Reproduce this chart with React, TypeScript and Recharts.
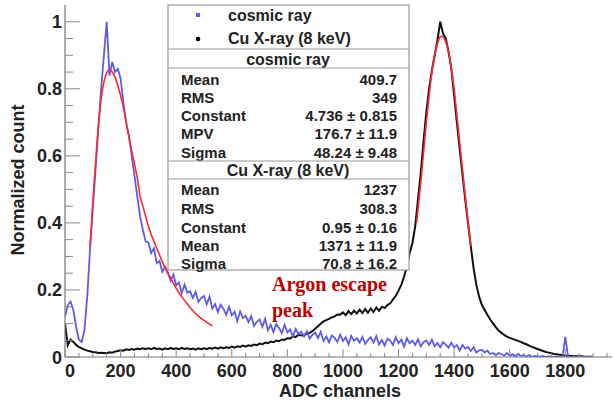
import { LineChart, Line, XAxis, YAxis } from "recharts";

// histogram binning (ADC channels)
const BIN_START = 0;
const BIN_WIDTH = 10;

// cosmic ray, normalized count per bin (0 .. 1900)
const cosmicCounts = [
  0.12, 0.155, 0.165, 0.14, 0.09, 0.052, 0.045, 0.08, 0.18, 0.32,
  0.44, 0.56, 0.68, 0.8, 0.9, 1.0, 0.84, 0.88, 0.85, 0.86,
  0.83, 0.76, 0.7, 0.66, 0.6, 0.54, 0.48, 0.42, 0.38, 0.345,
  0.342, 0.31, 0.324, 0.28, 0.286, 0.254, 0.27, 0.252, 0.228, 0.246,
  0.214, 0.222, 0.19, 0.216, 0.192, 0.196, 0.176, 0.194, 0.164, 0.176,
  0.182, 0.158, 0.18, 0.144, 0.158, 0.134, 0.156, 0.144, 0.126, 0.15,
  0.124, 0.135, 0.107, 0.136, 0.116, 0.123, 0.104, 0.122, 0.093, 0.105,
  0.112, 0.09, 0.114, 0.08, 0.096, 0.074, 0.098, 0.087, 0.071, 0.096,
  0.073, 0.082, 0.061, 0.084, 0.069, 0.075, 0.061, 0.077, 0.055, 0.066,
  0.073, 0.056, 0.075, 0.048, 0.061, 0.044, 0.064, 0.057, 0.045, 0.067,
  0.048, 0.059, 0.038, 0.063, 0.048, 0.056, 0.043, 0.06, 0.039, 0.051,
  0.059, 0.043, 0.062, 0.037, 0.051, 0.034, 0.055, 0.049, 0.036, 0.059,
  0.041, 0.052, 0.031, 0.056, 0.041, 0.049, 0.036, 0.053, 0.032, 0.044,
  0.049, 0.036, 0.052, 0.032, 0.042, 0.029, 0.044, 0.037, 0.028, 0.043,
  0.028, 0.036, 0.019, 0.036, 0.025, 0.03, 0.018, 0.029, 0.013, 0.02,
  0.021, 0.014, 0.019, 0.009, 0.012, 0.005, 0.012, 0.009, 0.004, 0.012,
  0.004, 0.008, 0.002, 0.009, 0.003, 0.006, 0.001, 0.006, 0, 0.003,
  0.002, 0.001, 0.003, 0, 0.002, 0.001, 0, 0.002, 0.001, 0,
  0.06, 0.001, 0, 0.002, 0, 0.001, 0, 0, 0, 0, 0,
];

// Cu X-ray (8 keV), normalized count per bin (0 .. 1900)
const copperCounts = [
  0.1, 0.035, 0.052, 0.045, 0.036, 0.03, 0.026, 0.022, 0.019, 0.017,
  0.015, 0.014, 0.012, 0.013, 0.012, 0.011, 0.014, 0.013, 0.016, 0.018,
  0.02, 0.019, 0.023, 0.021, 0.024, 0.022, 0.025, 0.023, 0.026, 0.024,
  0.026, 0.023, 0.027, 0.024, 0.025, 0.022, 0.026, 0.023, 0.027, 0.024,
  0.026, 0.023, 0.027, 0.024, 0.026, 0.023, 0.025, 0.022, 0.026, 0.023,
  0.026, 0.024, 0.027, 0.025, 0.028, 0.025, 0.029, 0.026, 0.029, 0.027,
  0.031, 0.028, 0.032, 0.03, 0.034, 0.031, 0.035, 0.033, 0.037, 0.035,
  0.04, 0.038, 0.043, 0.041, 0.046, 0.044, 0.049, 0.047, 0.052, 0.051,
  0.056, 0.055, 0.061, 0.06, 0.066, 0.064, 0.066, 0.069, 0.072, 0.077,
  0.084, 0.092, 0.099, 0.106, 0.11, 0.114, 0.118, 0.121, 0.127, 0.126,
  0.133, 0.125, 0.137, 0.128, 0.138, 0.13, 0.141, 0.131, 0.143, 0.132,
  0.145, 0.134, 0.148, 0.138, 0.15, 0.146, 0.155, 0.16, 0.172, 0.182,
  0.198, 0.215, 0.24, 0.27, 0.31, 0.34, 0.39, 0.47, 0.55, 0.645,
  0.73, 0.8, 0.855, 0.9, 0.945, 1.0, 0.965, 0.95, 0.91, 0.86,
  0.78, 0.7, 0.62, 0.545, 0.47, 0.4, 0.33, 0.265, 0.215, 0.18,
  0.155, 0.14, 0.125, 0.112, 0.1, 0.089, 0.079, 0.072, 0.066, 0.061,
  0.057, 0.054, 0.051, 0.048, 0.045, 0.041, 0.038, 0.034, 0.03, 0.027,
  0.024, 0.021, 0.018, 0.015, 0.013, 0.011, 0.009, 0.008, 0.007, 0.006,
  0.004, 0.004, 0.003, 0.003, 0.002, 0.002, 0.002, 0.001, 0.001, 0.001, 0.001,
];

// Landau fit to cosmic ray
const landauAdc = [90, 100, 110, 120, 130, 140, 150, 160, 170, 180, 190, 200, 210, 220, 230, 240, 250, 260, 270, 280, 290, 300, 310, 320, 330, 340, 360, 380, 400, 420, 440, 460, 480, 500, 520, 530];
const landauVal = [0.33, 0.46, 0.58, 0.69, 0.77, 0.82, 0.848, 0.857, 0.85, 0.835, 0.81, 0.78, 0.745, 0.7, 0.655, 0.615, 0.575, 0.535, 0.48, 0.45, 0.42, 0.39, 0.365, 0.345, 0.325, 0.305, 0.265, 0.235, 0.205, 0.18, 0.158, 0.138, 0.122, 0.109, 0.098, 0.093];

// Gaussian fit to Cu X-ray peak
const gausAdc = [1265, 1280, 1290, 1300, 1310, 1320, 1330, 1340, 1350, 1355, 1360, 1370, 1380, 1390, 1400, 1410, 1420, 1430, 1440, 1450, 1460];
const gausVal = [0.4, 0.52, 0.61, 0.7, 0.78, 0.85, 0.9, 0.935, 0.955, 0.957, 0.955, 0.94, 0.91, 0.86, 0.8, 0.72, 0.64, 0.56, 0.48, 0.4, 0.33];

const xMajor = [0, 200, 400, 600, 800, 1000, 1200, 1400, 1600, 1800];
const xTicks = [0, 50, 100, 150, 200, 250, 300, 350, 400, 450, 500, 550, 600, 650, 700, 750, 800, 850, 900, 950, 1000, 1050, 1100, 1150, 1200, 1250, 1300, 1350, 1400, 1450, 1500, 1550, 1600, 1650, 1700, 1750, 1800, 1850, 1900, 1950];
const yMajor = [0, 0.2, 0.4, 0.6, 0.8, 1];
const yTicks = [0, 0.05, 0.1, 0.15, 0.2, 0.25, 0.3, 0.35, 0.4, 0.45, 0.5, 0.55, 0.6, 0.65, 0.7, 0.75, 0.8, 0.85, 0.9, 0.95, 1];

const cosmicStats = [
  ["Mean", "409.7"],
  ["RMS", "349"],
  ["Constant", "4.736 ± 0.815"],
  ["MPV", "176.7 ± 11.9"],
  ["Sigma", "48.24 ± 9.48"],
];
const copperStats = [
  ["Mean", "1237"],
  ["RMS", "308.3"],
  ["Constant", "0.95 ± 0.16"],
  ["Mean", "1371 ± 11.9"],
  ["Sigma", "70.8 ± 16.2"],
];

const cosmicData = cosmicCounts.map((v, i) => ({ adc: BIN_START + i * BIN_WIDTH, v }));
const copperData = copperCounts.map((v, i) => ({ adc: BIN_START + i * BIN_WIDTH, v }));
const landauData = landauAdc.map((adc, i) => ({ adc, v: landauVal[i] }));
const gausData = gausAdc.map((adc, i) => ({ adc, v: gausVal[i] }));

const FONT = "'Liberation Sans', Arial, sans-serif";
const FRAME = "#777";
const TICK = "#888";
const BLUE = "#5c5ce6";
const RED = "#ff2a2a";

const isMajor = (list: number[], v: number) => list.some((m) => Math.abs(m - v) < 1e-6);

function AxisTick(props: any) {
  const { x, y, payload, side } = props;
  const v = payload.value as number;
  if (side === "bottom" || side === "top") {
    const major = isMajor(xMajor, v);
    const len = major ? 8 : 4;
    const dir = side === "bottom" ? -1 : 1;
    return (
      <g>
        <line x1={x} x2={x} y1={y} y2={y + dir * len} stroke={TICK} strokeWidth={1} />
        {side === "bottom" && major && (
          <text x={x + (v === 0 ? 5 : 0)} y={y + 20} textAnchor="middle" fontFamily={FONT} fontWeight="bold" fontSize={18} fill="#222">
            {v}
          </text>
        )}
      </g>
    );
  }
  const major = isMajor(yMajor, v);
  const len = major ? 15 : 8;
  const dir = side === "left" ? 1 : -1;
  return (
    <g>
      <line x1={x} x2={x + dir * len} y1={y} y2={y} stroke={TICK} strokeWidth={1} />
      {side === "left" && major && (
        <text x={x - 3} y={y + 6.5} textAnchor="end" fontFamily={FONT} fontWeight="bold" fontSize={18} fill="#222">
          {v}
        </text>
      )}
    </g>
  );
}

function StatsBox() {
  const left = 168;
  const right = 409;
  const labelX = 181;
  const valueX = 397;
  const text = { fontFamily: FONT, fontWeight: "bold" as const, fill: "#222" };
  const cosmicRowsY = [79, 97, 115, 133, 152];
  const copperRowsY = [189, 208, 227, 245, 263];
  return (
    <g>
      <rect x={left} y={5} width={right - left} height={265} fill="#fff" stroke="#999" strokeWidth={1.2} />
      <rect x={196} y={13} width={4} height={4} fill={BLUE} />
      <text x={228} y={21} fontSize={16} {...text}>cosmic ray</text>
      <circle cx={198} cy={39} r={2.3} fill="#000" />
      <text x={228} y={44} fontSize={16} {...text}>Cu X-ray (8 keV)</text>
      <line x1={left} x2={right} y1={49} y2={49} stroke="#999" strokeWidth={1.2} />
      <text x={288} y={65} fontSize={16} textAnchor="middle" {...text}>cosmic ray</text>
      <line x1={left} x2={right} y1={68} y2={68} stroke="#999" strokeWidth={1.2} />
      {cosmicStats.map(([k, val], i) => (
        <g key={"c" + i}>
          <text x={labelX} y={cosmicRowsY[i] + 5.5} fontSize={15} {...text}>{k}</text>
          <text x={valueX} y={cosmicRowsY[i] + 5.5} fontSize={15} textAnchor="end" {...text}>{val}</text>
        </g>
      ))}
      <line x1={left} x2={right} y1={161} y2={161} stroke="#999" strokeWidth={1.2} />
      <text x={288} y={176} fontSize={16} textAnchor="middle" {...text}>Cu X-ray (8 keV)</text>
      <line x1={left} x2={right} y1={179} y2={179} stroke="#999" strokeWidth={1.2} />
      {copperStats.map(([k, val], i) => (
        <g key={"u" + i}>
          <text x={labelX} y={copperRowsY[i] + 5.5} fontSize={15} {...text}>{k}</text>
          <text x={valueX} y={copperRowsY[i] + 5.5} fontSize={15} textAnchor="end" {...text}>{val}</text>
        </g>
      ))}
    </g>
  );
}

export default function App() {
  return (
    <div style={{ position: "absolute", left: 0, top: 0, width: 613, height: 404, background: "#fff" }}>
      <LineChart width={613} height={404} margin={{ top: 5, right: 1, bottom: 17, left: 25 }}>
        <XAxis xAxisId="b" dataKey="adc" type="number" domain={[0, 1968]} ticks={xTicks} interval={0}
          orientation="bottom" height={30} tickSize={0} tickMargin={0} tickLine={false}
          axisLine={{ stroke: FRAME, strokeWidth: 1.2 }} allowDataOverflow
          tick={(p: any) => <AxisTick {...p} side="bottom" />} />
        <XAxis xAxisId="t" dataKey="adc" type="number" domain={[0, 1968]} ticks={xTicks} interval={0}
          orientation="top" height={0} tickSize={0} tickMargin={0} tickLine={false}
          axisLine={{ stroke: FRAME, strokeWidth: 1.2 }} allowDataOverflow
          tick={(p: any) => <AxisTick {...p} side="top" />} />
        <YAxis yAxisId="l" type="number" domain={[0, 1.05]} ticks={yTicks} interval={0}
          width={40} tickSize={0} tickMargin={0} tickLine={false}
          axisLine={{ stroke: FRAME, strokeWidth: 1.2 }} allowDataOverflow
          tick={(p: any) => <AxisTick {...p} side="left" />} />
        <YAxis yAxisId="r" orientation="right" type="number" domain={[0, 1.05]} ticks={yTicks} interval={0}
          width={0} tickSize={0} tickMargin={0} tickLine={false}
          axisLine={{ stroke: FRAME, strokeWidth: 1.2 }} allowDataOverflow
          tick={(p: any) => <AxisTick {...p} side="right" />} />
        <Line xAxisId="b" yAxisId="l" data={copperData} dataKey="v" type="linear" stroke="#111" strokeWidth={2} dot={false} isAnimationActive={false} />
        <Line xAxisId="b" yAxisId="l" data={cosmicData} dataKey="v" type="linear" stroke={BLUE} strokeWidth={1.8} dot={false} isAnimationActive={false} />
        <Line xAxisId="b" yAxisId="l" data={landauData} dataKey="v" type="monotone" stroke={RED} strokeWidth={1.6} dot={false} isAnimationActive={false} />
        <Line xAxisId="b" yAxisId="l" data={gausData} dataKey="v" type="monotone" stroke={RED} strokeWidth={1.6} dot={false} isAnimationActive={false} />
      </LineChart>
      <svg width={613} height={404} style={{ position: "absolute", left: 0, top: 0, pointerEvents: "none" }}>
        <StatsBox />
        <text x={272} y={291} fontFamily="'Liberation Serif', 'Times New Roman', serif" fontWeight="bold" fontSize={20} fill="#c00000">Argon escape</text>
        <text x={272} y={317} fontFamily="'Liberation Serif', 'Times New Roman', serif" fontWeight="bold" fontSize={20} fill="#c00000">peak</text>
        <text x={340} y={397} textAnchor="middle" fontFamily={FONT} fontWeight="bold" fontSize={18} fill="#222">ADC channels</text>
        <text transform="translate(24 180) rotate(-90)" textAnchor="middle" fontFamily={FONT} fontWeight="bold" fontSize={18} fill="#222">Normalized count</text>
      </svg>
    </div>
  );
}
